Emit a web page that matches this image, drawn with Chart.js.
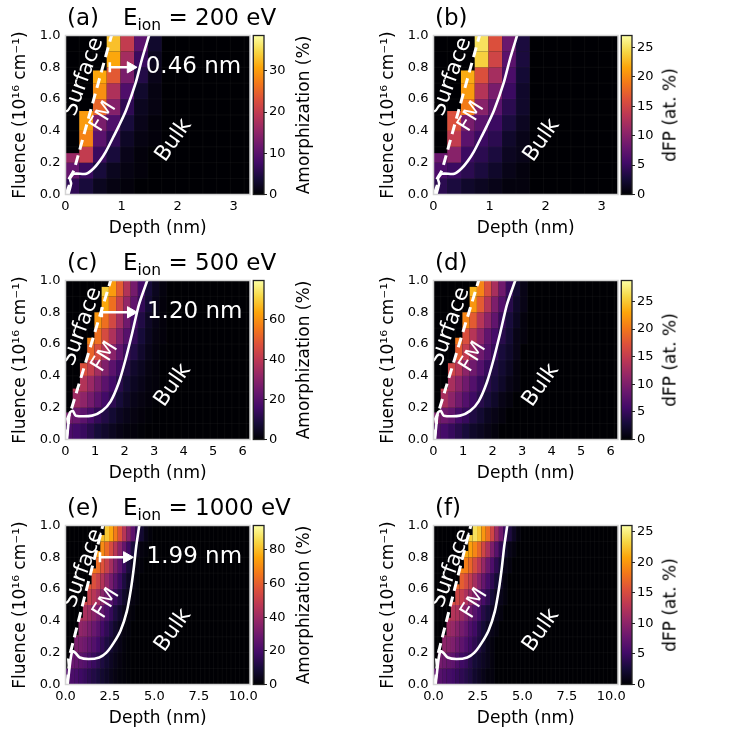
<!DOCTYPE html>
<html>
<head>
<meta charset="utf-8">
<script src="https://cdn.jsdelivr.net/npm/chart.js@4.4.1/dist/chart.umd.min.js"></script>
<style>
  body { margin: 0; background: #fff; }
  #fig { position: relative; width: 736px; height: 736px; overflow: hidden; font-family: "DejaVu Sans", sans-serif; }
  .box { position: absolute; }
  .txt { position: absolute; white-space: nowrap; color: #000; line-height: 1; }
  .sub { font-size: 15.5px; position: relative; top: 5px; }
</style>
</head>
<body>
<div id="fig"></div>
<script>
// ---- data ----
const depthBin = 0.245;                     // nm, width of one depth cell
const fluenceEdges = [0, 0.1, 0.2, 0.3, 0.4, 0.5, 0.6, 0.7, 0.8, 0.9, 1.0];
const fluenceTicks = [0, 0.2, 0.4, 0.6, 0.8, 1.0];
const energyLabels = ['200', '500', '1000'];
const panelLetters = [['a', 'b'], ['c', 'd'], ['e', 'f']];
const depthMax = [3.29, 6.25, 10.38];
const depthTicks = [[0, 1, 2, 3], [0, 1, 2, 3, 4, 5, 6], [0, 2.5, 5, 7.5, 10]];
const amoMax = [38.6, 79.7, 94.4];
const amoTicks = [[0, 10, 20, 30], [0, 20, 40, 60], [0, 20, 40, 60, 80]];
const dfpMax = [27.0, 28.8, 26.0];
const dfpTicks = [[0, 5, 10, 15, 20, 25], [0, 5, 10, 15, 20, 25], [0, 5, 10, 15, 20, 25]];

// fluence above which each depth column is sputtered away (black)
const surfCut200 = [0.26, 0.525, 0.78];
const surfCut500 = [0.17, 0.32, 0.48, 0.64, 0.80, 0.96];
const surfCut1000 = [0.10, 0.20, 0.31, 0.42, 0.52, 0.63, 0.73, 0.84, 0.94];

// rows: fluence bins bottom -> top, columns: depth bins from the surface
const amo200 = [
  [6, 4, 2, 1, 0.5, 0, 0],
  [11, 7, 4, 2, 1, 0.5, 0],
  [16, 20, 7, 4, 1.5, 0.5, 0],
  [0, 28, 10, 6, 2.5, 1, 0.5],
  [0, 30, 13, 9, 4, 1.5, 0.5],
  [0, 30, 25, 14, 6, 2, 1],
  [0, 0, 29, 18, 9, 3, 1],
  [0, 0, 31, 24, 13, 5, 1.5],
  [0, 0, 0, 31, 17, 7, 2],
  [0, 0, 0, 33, 20, 10, 3]
];
const dfp200 = [
  [4, 3, 2, 1.5, 1, 0.5, 0.5],
  [6, 5, 4, 3, 2, 1, 0.5],
  [8, 10, 5, 4, 3, 1.5, 1],
  [0, 14, 7, 5, 4, 2, 1],
  [0, 16, 9, 7, 5, 3, 1.5],
  [0, 16, 19, 10, 7, 4, 2],
  [0, 0, 21, 13, 9, 5, 2],
  [0, 0, 22, 16, 12, 6, 2.5],
  [0, 0, 0, 24, 15, 7, 3],
  [0, 0, 0, 25, 16, 8, 3]
];
const amo500 = [
  [18, 16, 14, 11, 8, 6, 4, 2.5, 1.5, 1, 0.5],
  [26, 24, 21, 17, 13, 10, 7, 4.5, 3, 2, 1, 0.5],
  [0, 34, 31, 26, 21, 16, 12, 8, 5, 3, 2, 1, 0.5],
  [0, 40, 38, 33, 27, 21, 16, 11, 7, 4.5, 3, 1.5, 1],
  [0, 0, 47, 42, 35, 28, 21, 15, 10, 6, 4, 2, 1],
  [0, 0, 0, 52, 46, 38, 30, 22, 15, 10, 6, 3, 1.5, 0.5],
  [0, 0, 0, 58, 54, 46, 37, 28, 20, 13, 8, 4, 2, 1],
  [0, 0, 0, 0, 61, 54, 45, 35, 25, 17, 10, 5, 2.5, 1],
  [0, 0, 0, 0, 0, 64, 54, 43, 32, 22, 13, 7, 3, 1],
  [0, 0, 0, 0, 0, 70, 62, 50, 38, 26, 16, 8, 4, 1.5]
];
const dfp500 = [
  [7, 6, 5, 4, 3, 2, 1.5, 1, 0.5],
  [10, 9, 8, 6, 5, 3.5, 2.5, 1.5, 1, 0.5],
  [0, 13, 11, 9, 7, 5.5, 4, 3, 2, 1, 0.5],
  [0, 15, 13, 11, 9, 7, 5, 4, 3, 2, 1, 0.5],
  [0, 0, 16, 14, 11, 9, 7, 5, 3.5, 2.5, 1.5, 0.5],
  [0, 0, 0, 18, 15, 12, 9, 7, 5, 3, 2, 1],
  [0, 0, 0, 20, 17, 14, 11, 8, 6, 4, 2.5, 1, 0.5],
  [0, 0, 0, 0, 21, 18, 14, 11, 8, 5, 3, 1.5, 0.5],
  [0, 0, 0, 0, 0, 22, 18, 14, 10, 7, 4, 2, 1],
  [0, 0, 0, 0, 0, 24, 21, 17, 13, 9, 5, 2.5, 1]
];
const amo1000 = [
  [22, 21, 20, 18, 16, 14, 12, 10, 8, 6, 4, 2.5, 1.5, 1, 0.5],
  [0, 28, 27, 25, 23, 20, 17, 14, 11, 8, 5.5, 3.5, 2, 1, 0.5],
  [0, 0, 32, 31, 29, 26, 23, 19, 15, 11, 8, 5, 3, 1.5, 0.5],
  [0, 0, 38, 37, 35, 32, 28, 24, 19, 15, 11, 7, 4, 2, 1],
  [0, 0, 0, 44, 43, 40, 36, 31, 26, 21, 16, 11, 7, 4, 2, 1],
  [0, 0, 0, 0, 52, 50, 46, 41, 35, 29, 23, 17, 12, 7, 4, 2, 1],
  [0, 0, 0, 0, 0, 58, 56, 51, 45, 38, 31, 24, 17, 11, 6, 3, 1.5],
  [0, 0, 0, 0, 0, 0, 66, 63, 57, 50, 42, 33, 25, 17, 10, 5, 2, 1],
  [0, 0, 0, 0, 0, 0, 0, 73, 70, 63, 55, 46, 36, 27, 18, 10, 5, 2, 1],
  [0, 0, 0, 0, 0, 0, 0, 0, 80, 82, 76, 67, 57, 46, 35, 25, 15, 8, 3, 1]
];
const dfp1000 = [
  [7, 6.5, 6, 5.5, 5, 4.5, 4, 3.5, 3, 2, 1.5, 1, 0.5, 0.5],
  [0, 8.5, 8, 7.5, 7, 6, 5, 4.5, 3.5, 2.5, 2, 1.5, 1, 0.5],
  [0, 0, 10, 9.5, 9, 8, 7, 6, 5, 4, 3, 2, 1, 0.5],
  [0, 0, 11, 11, 10.5, 9.5, 8.5, 7.5, 6, 5, 3.5, 2.5, 1.5, 1, 0.5],
  [0, 0, 0, 13, 12.5, 12, 11, 9.5, 8, 6.5, 5, 3.5, 2.5, 1.5, 1, 0.5],
  [0, 0, 0, 0, 15, 14.5, 13.5, 12, 10.5, 9, 7, 5.5, 4, 2.5, 1.5, 1, 0.5],
  [0, 0, 0, 0, 0, 17, 16.5, 15, 13.5, 11.5, 9.5, 7.5, 5.5, 4, 2.5, 1.5, 0.5],
  [0, 0, 0, 0, 0, 0, 19, 18.5, 17, 15, 13, 10.5, 8, 6, 4, 2.5, 1, 0.5],
  [0, 0, 0, 0, 0, 0, 0, 21, 20.5, 19, 17, 14.5, 12, 9, 6.5, 4, 2, 1, 0.5],
  [0, 0, 0, 0, 0, 0, 0, 0, 23, 24, 22.5, 20, 17.5, 14.5, 11, 8, 5, 3, 1.5, 0.5]
];

// surface (dashed) and FM/bulk (solid) boundaries, depth in nm vs fluence
const surfLine200 = [{x: 0.01, y: 0}, {x: 0.07, y: 0.06}, {x: 0.05, y: 0.09}, {x: 0.15, y: 0.15}, {x: 0.82, y: 1.0}];
const fmLine200 = [{x: 0.05, y: 0}, {x: 0.1, y: 0.07}, {x: 0.08, y: 0.1}, {x: 0.15, y: 0.13}, {x: 0.37, y: 0.13},
  {x: 0.49, y: 0.16}, {x: 0.61, y: 0.21}, {x: 0.72, y: 0.27}, {x: 0.85, y: 0.36}, {x: 0.95, y: 0.43},
  {x: 1.08, y: 0.53}, {x: 1.25, y: 0.7}, {x: 1.37, y: 0.86}, {x: 1.49, y: 1.0}];
const surfLine500 = [{x: 0.02, y: 0}, {x: 0.1, y: 0.1}, {x: 0.07, y: 0.13}, {x: 0.18, y: 0.18}, {x: 1.53, y: 1.0}];
const fmLine500 = [{x: 0.05, y: 0}, {x: 0.1, y: 0.1}, {x: 0.15, y: 0.17}, {x: 0.25, y: 0.18}, {x: 0.35, y: 0.15},
  {x: 0.9, y: 0.15}, {x: 1.24, y: 0.18}, {x: 1.53, y: 0.24}, {x: 1.81, y: 0.36}, {x: 2.03, y: 0.5},
  {x: 2.26, y: 0.67}, {x: 2.49, y: 0.85}, {x: 2.77, y: 1.0}];
const surfLine1000 = [{x: 0.08, y: 0}, {x: 0.2, y: 0.12}, {x: 0.17, y: 0.16}, {x: 0.32, y: 0.22}, {x: 2.1, y: 1.0}];
const fmLine1000 = [{x: 0.12, y: 0}, {x: 0.2, y: 0.08}, {x: 0.3, y: 0.17}, {x: 0.4, y: 0.21}, {x: 0.55, y: 0.2},
  {x: 0.8, y: 0.17}, {x: 1.3, y: 0.16}, {x: 1.9, y: 0.17}, {x: 2.3, y: 0.2}, {x: 2.7, y: 0.26},
  {x: 3.1, y: 0.34}, {x: 3.45, y: 0.46}, {x: 3.68, y: 0.6}, {x: 3.85, y: 0.74}, {x: 3.98, y: 0.87}, {x: 4.15, y: 1.0}];

const fmWidthLabels = ['0.46 nm', '1.20 nm', '1.99 nm'];
const fmArrowX = [[0.79, 1.16], [1.23, 2.21], [1.94, 3.45]];
const fmArrowY = 0.8;

// ---- assembled per energy ----
const amoGrids = [amo200, amo500, amo1000];
const dfpGrids = [dfp200, dfp500, dfp1000];
const surfCuts = [surfCut200, surfCut500, surfCut1000];
const surfLines = [surfLine200, surfLine500, surfLine1000];
const fmLines = [fmLine200, fmLine500, fmLine1000];

// label anchors (data coordinates)
const surfaceAt = [[0.32, 0.74], [0.55, 0.71], [1.0, 0.73]];
const fmAt = [[0.675, 0.49], [1.34, 0.52], [2.31, 0.51]];
const bulkAt = [[1.93, 0.34], [3.64, 0.34], [6.06, 0.34]];
const widthAt = [[1.43, 0.8], [2.76, 0.8], [4.56, 0.8]];

const infernoStops = ['#000004', '#160b39', '#420a68', '#6a176e', '#932667', '#bc3754',
  '#dd513a', '#f37819', '#fca50a', '#f6d746', '#fcffa4'];
const infernoRgb = infernoStops.map(h => [1, 3, 5].map(i => parseInt(h.substr(i, 2), 16)));
function inferno(t) {
  t = Math.max(0, Math.min(1, t));
  const p = t * 10, i = Math.min(9, Math.floor(p)), f = p - i;
  const a = infernoRgb[i], b = infernoRgb[i + 1];
  return 'rgb(' + a.map((v, j) => Math.round(v + (b[j] - v) * f)).join(',') + ')';
}

Chart.defaults.font.family = '"DejaVu Sans", sans-serif';
Chart.defaults.color = '#000';

const fig = document.getElementById('fig');
function addCanvas(left, top, w, h) {
  const d = document.createElement('div');
  d.className = 'box';
  Object.assign(d.style, {left: left + 'px', top: top + 'px', width: w + 'px', height: h + 'px'});
  const c = document.createElement('canvas');
  d.appendChild(c);
  fig.appendChild(d);
  return c;
}
function addText(html, left, top, size) {
  const d = document.createElement('div');
  d.className = 'txt';
  d.innerHTML = html;
  Object.assign(d.style, {left: left + 'px', top: top + 'px', fontSize: size + 'px'});
  fig.appendChild(d);
}
function addVertText(text, cx, cy, size) {
  const d = document.createElement('div');
  d.className = 'txt';
  d.textContent = text;
  Object.assign(d.style, {left: cx + 'px', top: cy + 'px', fontSize: size + 'px',
    transform: 'translate(-50%,-50%) rotate(-90deg)'});
  fig.appendChild(d);
}
const fixedTicks = list => s => { s.ticks = list.map(v => ({value: v})); };

function heatPlugin(grid, cut, vmax, texts) {
  return {
    id: 'heat',
    beforeDatasetsDraw(chart) {
      const {ctx, chartArea: a, scales: {x, y}} = chart;
      ctx.save();
      ctx.beginPath();
      ctx.rect(a.left, a.top, a.width, a.height);
      ctx.clip();
      ctx.fillStyle = inferno(0);
      ctx.fillRect(a.left, a.top, a.width, a.height);
      grid.forEach((row, r) => {
        row.forEach((v, c) => {
          const f0 = fluenceEdges[r];
          const f1 = Math.min(fluenceEdges[r + 1], c < cut.length ? cut[c] : 1);
          if (f1 <= f0 || !v) return;
          const xl = x.getPixelForValue(c * depthBin), xr = x.getPixelForValue((c + 1) * depthBin);
          const yt = y.getPixelForValue(f1), yb = y.getPixelForValue(f0);
          ctx.fillStyle = inferno(v / vmax);
          ctx.fillRect(xl, yt, xr - xl, yb - yt);
        });
      });
      // faint cell edges
      ctx.strokeStyle = 'rgba(255,255,255,0.06)';
      ctx.lineWidth = 0.7;
      ctx.beginPath();
      for (let d = depthBin; d < x.max; d += depthBin) {
        const px = x.getPixelForValue(d);
        ctx.moveTo(px, a.top); ctx.lineTo(px, a.bottom);
      }
      fluenceEdges.forEach(f => {
        const py = y.getPixelForValue(f);
        ctx.moveTo(a.left, py); ctx.lineTo(a.right, py);
      });
      ctx.stroke();
      ctx.restore();
    },
    afterDatasetsDraw(chart) {
      const {ctx, chartArea: a, scales: {x, y}} = chart;
      ctx.save();
      ctx.fillStyle = '#fff';
      ctx.textBaseline = 'middle';
      texts.forEach(t => {
        ctx.save();
        ctx.font = t.size + 'px "DejaVu Sans", sans-serif';
        ctx.textAlign = t.align;
        ctx.translate(x.getPixelForValue(t.at[0]), y.getPixelForValue(t.at[1]));
        ctx.rotate(t.rot * Math.PI / 180);
        ctx.fillText(t.text, 0, 0);
        ctx.restore();
      });
      ctx.strokeStyle = '#d4d4d4';
      ctx.lineWidth = 1.5;
      ctx.strokeRect(a.left, a.top, a.width, a.height);
      ctx.restore();
    }
  };
}

function makeHeat(canvas, k, grid, vmax, withArrow) {
  const datasets = [
    {data: surfLines[k], showLine: true, borderColor: '#fff', borderWidth: 3, borderDash: [10, 6],
      pointRadius: 0, tension: 0},
    {data: fmLines[k], showLine: true, borderColor: '#fff', borderWidth: 2.6, pointRadius: 0, tension: 0.25}
  ];
  const texts = [
    {text: 'Surface', at: surfaceAt[k], rot: -70, align: 'center', size: 21.5},
    {text: 'FM', at: fmAt[k], rot: -58, align: 'center', size: 21.5},
    {text: 'Bulk', at: bulkAt[k], rot: -55, align: 'center', size: 21.5}
  ];
  if (withArrow) {
    datasets.push({
      data: [{x: fmArrowX[k][0], y: fmArrowY}, {x: fmArrowX[k][1], y: fmArrowY}],
      showLine: true, borderColor: '#fff', borderWidth: 2.6,
      pointStyle: ['line', 'triangle'], pointRadius: [5, 6.5], pointRotation: [90, 90],
      pointBackgroundColor: '#fff', pointBorderColor: '#fff', pointBorderWidth: [2.6, 1]
    });
    texts.push({text: fmWidthLabels[k], at: widthAt[k], rot: 0, align: 'left', size: 23});
  }
  return new Chart(canvas, {
    type: 'scatter',
    data: {datasets},
    options: {
      animation: false, events: [], responsive: true, maintainAspectRatio: false,
      layout: {autoPadding: false, padding: {top: 35.5, right: 12, left: 0, bottom: 0}},
      plugins: {legend: {display: false}, tooltip: {enabled: false}},
      scales: {
        x: {
          type: 'linear', min: 0, max: depthMax[k],
          afterBuildTicks: fixedTicks(depthTicks[k]),
          afterFit: s => { s.height = 50.5; s.paddingLeft = 0; s.paddingRight = 0; },
          grid: {display: false, drawTicks: false}, border: {display: false},
          ticks: {padding: 4, font: {size: 13}, maxRotation: 0,
            callback: v => k === 2 ? v.toFixed(1) : v.toFixed(0)},
          title: {display: true, text: 'Depth (nm)', font: {size: 17}, padding: {top: 0, bottom: 6}}
        },
        y: {
          type: 'linear', min: 0, max: 1,
          afterBuildTicks: fixedTicks(fluenceTicks),
          afterFit: s => { s.width = 65.5; s.paddingTop = 0; s.paddingBottom = 0; },
          grid: {display: false, drawTicks: false}, border: {display: false},
          ticks: {padding: 5, font: {size: 13}, callback: v => v.toFixed(1)},
          title: {display: true, text: 'Fluence (10¹⁶ cm⁻¹)', font: {size: 17}, padding: {top: 10, bottom: 0}}
        }
      }
    },
    plugins: [heatPlugin(grid, surfCuts[k], vmax, texts)]
  });
}

function cbPlugin(vmax) {
  return {
    id: 'cbar',
    afterDraw(chart) {
      const {ctx, chartArea: a, scales: {y}} = chart;
      const g = ctx.createLinearGradient(0, y.getPixelForValue(0), 0, y.getPixelForValue(vmax));
      infernoStops.forEach((c, i) => g.addColorStop(i / 10, c));
      ctx.save();
      ctx.fillStyle = g;
      ctx.fillRect(a.left, a.top, a.width, a.height);
      ctx.strokeStyle = '#222';
      ctx.lineWidth = 1.3;
      ctx.strokeRect(a.left, a.top, a.width, a.height);
      ctx.restore();
    }
  };
}

function makeBar(canvas, vmax, ticks) {
  return new Chart(canvas, {
    type: 'scatter',
    data: {datasets: [{data: []}]},
    options: {
      animation: false, events: [], responsive: true, maintainAspectRatio: false,
      layout: {autoPadding: false, padding: {left: 1.3, top: 35.5, bottom: 50.5, right: 0}},
      plugins: {legend: {display: false}, tooltip: {enabled: false}},
      scales: {
        x: {display: false, min: 0, max: 1},
        y: {
          position: 'right', min: 0, max: vmax,
          afterBuildTicks: fixedTicks(ticks),
          afterFit: s => { s.width = 104; s.paddingTop = 0; s.paddingBottom = 0; },
          ticks: {padding: 2, font: {size: 13}, callback: v => String(v)},
          grid: {drawOnChartArea: false, drawTicks: true, tickLength: 3, color: '#222', lineWidth: 1},
          border: {display: false}
        }
      }
    },
    plugins: [cbPlugin(vmax)]
  });
}

for (let k = 0; k < 3; k++) {
  const top = 245 * k;
  makeBar(addCanvas(252, top, 116, 245), amoMax[k], amoTicks[k]);
  makeBar(addCanvas(620, top, 116, 245), dfpMax[k], dfpTicks[k]);
  makeHeat(addCanvas(0, top, 262, 245), k, amoGrids[k], amoMax[k], true);
  makeHeat(addCanvas(368, top, 262, 245), k, dfpGrids[k], dfpMax[k], false);

  addText('(' + panelLetters[k][0] + ')', 67, top + 6, 23);
  addText('E<span class="sub">ion</span> = ' + energyLabels[k] + ' eV', 123, top + 6, 23);
  addText('(' + panelLetters[k][1] + ')', 435, top + 6, 23);
  addVertText('Amorphization (%)', 303.3, top + 115, 17);
  addVertText('dFP (at. %)', 670, top + 115, 17);
}
</script>
</body>
</html>
